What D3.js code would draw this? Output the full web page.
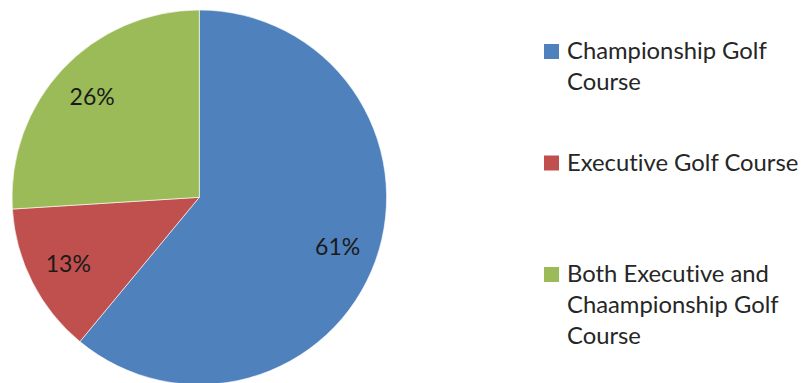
<!DOCTYPE html>
<html>
<head>
<meta charset="utf-8">
<script src="https://cdn.jsdelivr.net/npm/d3@7"></script>
<style>
  html, body { margin: 0; padding: 0; background: #ffffff; }
  svg { display: block; }
  text { font-family: Lato, "Open Sans", sans-serif; font-variant-ligatures: none; font-feature-settings: "liga" 0, "clig" 0; }
</style>
</head>
<body>
<svg id="chart" width="806" height="383"></svg>
<script>
// Course types and their share of respondents (percent)
const categories = [
  ["Championship Golf", "Course"],
  ["Executive Golf Course"],
  ["Both Executive and", "Chaampionship Golf", "Course"]
];
const shares = [61, 13, 26];
const valueLabels = ["61%", "13%", "26%"];
const colors = ["#4F81BD", "#C0504D", "#9BBB59"];

const width = 806, height = 383;
const cx = 199.3, cy = 197.3, radius = 187.3;

const svg = d3.select("#chart");

const pie = d3.pie().sort(null).value(d => d);
const arcs = pie(shares);

const arc = d3.arc().innerRadius(0).outerRadius(radius);
const labelArc = d3.arc().innerRadius(radius * 0.785).outerRadius(radius * 0.785);

const g = svg.append("g").attr("transform", `translate(${cx},${cy})`);

g.selectAll("path.slice")
  .data(arcs)
  .join("path")
  .attr("class", "slice")
  .attr("d", arc)
  .attr("fill", (d, i) => colors[i])
  .attr("stroke", "#ffffff")
  .attr("stroke-width", 0.6);

g.selectAll("text.pct")
  .data(arcs)
  .join("text")
  .attr("class", "pct")
  .attr("transform", d => `translate(${labelArc.centroid(d)})`)
  .attr("text-anchor", "middle")
  .attr("dy", "0.36em")
  .attr("font-size", 23)
  .attr("fill", "#1a1a1a")
  .text((d, i) => valueLabels[i]);

// Legend: one entry per category, evenly spaced down the right side
const legendX = 544, legendTop = 59, entryGap = 111.5, lineGap = 31, swatch = 15;
const legend = svg.append("g");
const entries = legend.selectAll("g.entry")
  .data(categories)
  .join("g")
  .attr("class", "entry")
  .attr("transform", (d, i) => `translate(${legendX},${legendTop + i * entryGap})`);

entries.append("rect")
  .attr("x", 0)
  .attr("y", -swatch)
  .attr("width", swatch)
  .attr("height", swatch)
  .attr("fill", (d, i) => colors[i]);

entries.append("text")
  .attr("x", 23)
  .attr("font-size", 23.8)
  .attr("fill", "#262626")
  .selectAll("tspan")
  .data(d => d)
  .join("tspan")
  .attr("x", 23)
  .attr("y", (d, j) => j * lineGap)
  .text(d => d);
</script>
</body>
</html>
